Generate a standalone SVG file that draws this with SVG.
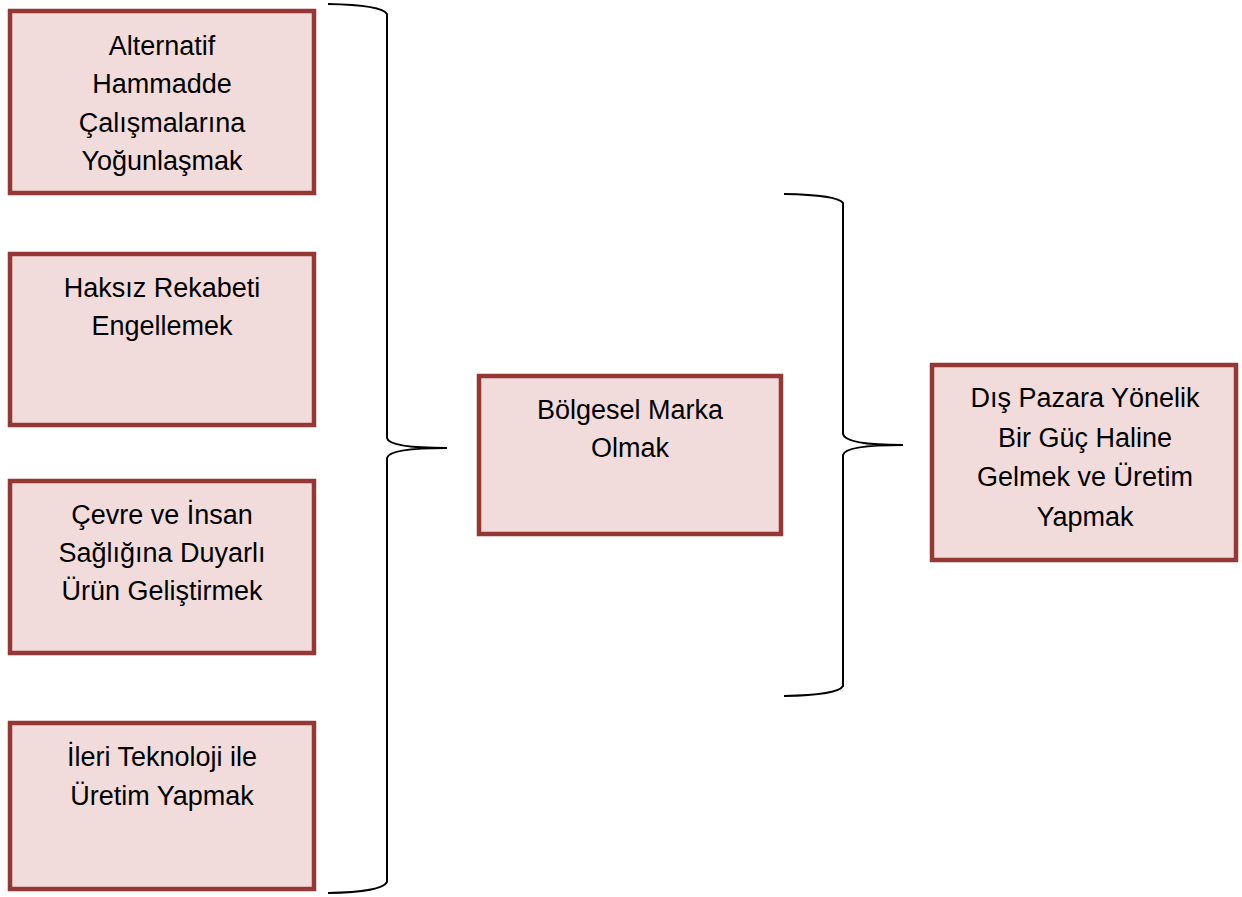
<svg xmlns="http://www.w3.org/2000/svg" width="1242" height="897" viewBox="0 0 1242 897">
<style>
.box{fill:#F2DCDB;stroke:#953735;stroke-width:4.5}
.t{font-family:"Liberation Sans",Arial,sans-serif;font-size:27px;fill:#000;text-anchor:middle}
.br{fill:none;stroke:#000;stroke-width:2}
</style>
<rect width="1242" height="897" fill="#fff"/>
<g id="connectors">
<path class="br" d="M328,4 Q382,5 387,14 L387,438 Q389,448 447,448 Q389,448 387,458 L387,882 Q382,892 328,893"/>
<path class="br" d="M784,194 Q838,195 843,203 L843,434 Q845,445 903,445 Q845,445 843,455 L843,686 Q838,695 784,696"/>
</g>
<g id="n1"><rect class="box" x="10" y="11" width="304" height="182"/>
<text class="t" x="162" y="55">Alternatif</text><text class="t" x="162" y="93">Hammadde</text><text class="t" x="162" y="132">Çalışmalarına</text><text class="t" x="162" y="170">Yoğunlaşmak</text></g>
<g id="n2"><rect class="box" x="10" y="254" width="304" height="171"/>
<text class="t" x="162" y="297">Haksız Rekabeti</text><text class="t" x="162" y="335">Engellemek</text></g>
<g id="n3"><rect class="box" x="10" y="481" width="304" height="172"/>
<text class="t" x="162" y="524">Çevre ve İnsan</text><text class="t" x="162" y="562">Sağlığına Duyarlı</text><text class="t" x="162" y="600">Ürün Geliştirmek</text></g>
<g id="n4"><rect class="box" x="10" y="723" width="304" height="166"/>
<text class="t" x="162" y="766">İleri Teknoloji ile</text><text class="t" x="162" y="805">Üretim Yapmak</text></g>
<g id="n5"><rect class="box" x="479" y="376" width="302" height="158"/>
<text class="t" x="630" y="419">Bölgesel Marka</text><text class="t" x="630" y="457">Olmak</text></g>
<g id="n6"><rect class="box" x="932" y="365" width="304" height="195"/>
<text class="t" x="1085" y="407">Dış Pazara Yönelik</text><text class="t" x="1085" y="447">Bir Güç Haline</text><text class="t" x="1085" y="486">Gelmek ve Üretim</text><text class="t" x="1085" y="526">Yapmak</text></g>
</svg>
